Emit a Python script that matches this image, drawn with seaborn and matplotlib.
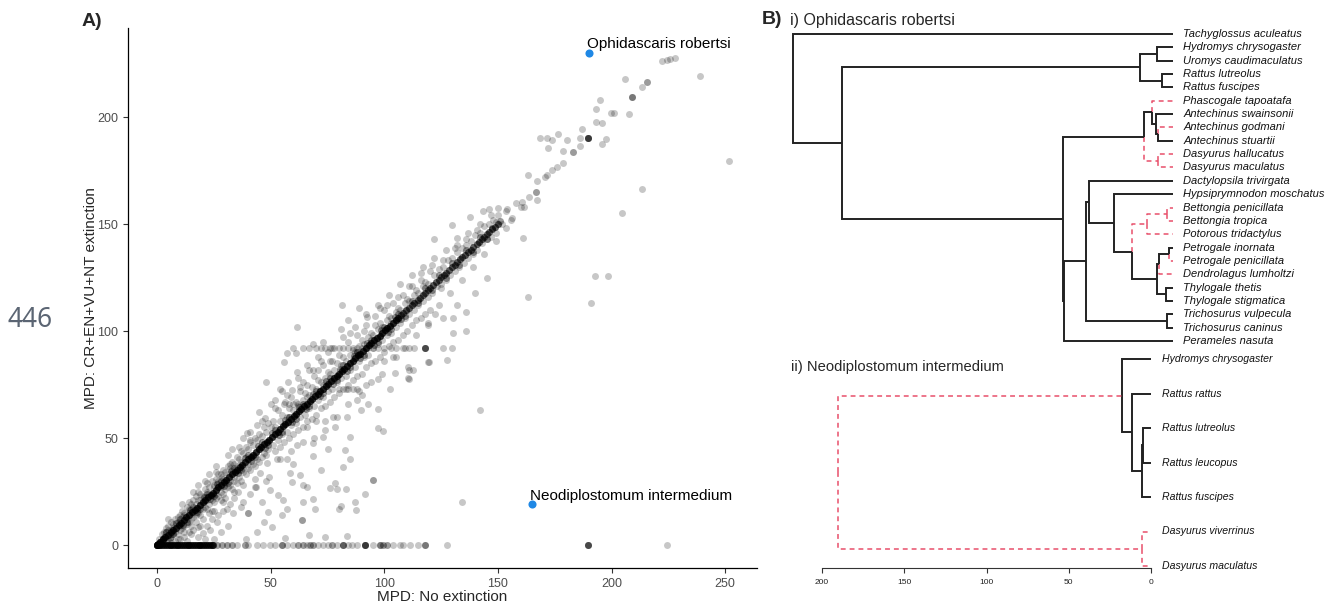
import numpy as np
import pandas as pd
import matplotlib
matplotlib.use("Agg")
import matplotlib.pyplot as plt
import seaborn as sns

# ---------------- panel A data (MPD: no extinction vs CR+EN+VU+NT extinction) ----------------
# parasites whose MPD is unchanged (y = x); diag_n = how many parasites sit at each value
diag_v = [0, 0.6, 1.5, 2.7, 3.6, 4.9, 6.1, 7.0, 8.2, 9.5, 10.4, 11.8, 12.9, 14.0, 15.3, 16.5,
          17.4, 18.8, 20.0, 21.1, 22.3, 23.6, 24.5, 25.9, 27.0, 28.2, 29.5, 30.4, 31.7, 33.0,
          34.1, 35.2, 36.6, 37.5, 38.8, 40.0, 41.3, 42.2, 43.6, 44.8, 45.9, 47.1, 48.4, 49.3,
          50.6, 51.9, 53.0, 54.1, 55.5, 56.4, 57.7, 59.0, 60.1, 61.2, 62.6, 63.5, 64.8, 66.0,
          67.3, 68.2, 69.6, 70.8, 71.9, 73.1, 74.4, 75.3, 76.6, 77.9, 79.0, 80.1, 81.5, 82.4,
          83.7, 85.0, 86.1, 87.2, 88.6, 89.5, 90.8, 92.0, 93.3, 94.2, 95.6, 96.8, 97.9, 99.1,
          100.4, 101.3, 102.6, 103.9, 105.0, 106.1, 107.5, 108.4, 109.7, 111.0, 112.1, 113.2,
          114.6, 115.5, 116.8, 118.0, 119.3, 120.2, 121.6, 122.8, 123.9, 125.1, 126.4, 127.3,
          128.6, 129.9, 131.0, 132.1, 133.5, 134.4, 135.7, 137.0, 138.1, 139.2, 140.6, 141.5,
          142.8, 144.0, 145.3, 146.2, 147.6, 148.8, 150.0]
diag_n = [10] * 4 + [7] * 88 + [4] * 37

# parasites left with a single host lineage (y = 0)
zero_x = [0, 0.7, 1.5, 2.3, 3.0, 3.9, 4.6, 5.5, 6.2, 7.1, 7.8, 8.7, 9.4, 10.3, 11.0, 11.9,
          12.6, 13.5, 14.2, 15.1, 15.8, 16.7, 17.4, 18.3, 19.0, 19.9, 20.6, 21.5, 22.3, 23.1,
          24.0, 24.8, 26.3, 28.5, 30.7, 32.9, 35.0, 38.7, 40.2, 43.9, 46.8, 49.7, 51.9, 54.9,
          57.1, 60.0, 62.2, 64.4, 66.0, 67.3, 68.8, 71.0, 73.2, 75.4, 76.9, 79.0, 81.7, 84.2,
          85.7, 87.9, 91.5, 95.0, 98.2, 99.6, 101.1, 104.0, 107.0, 108.1, 111.4, 115.0, 118.0,
          127.5, 189.5, 224.6]
zero_n = [5] * 32 + [2, 2, 2, 2, 1, 2, 1, 1, 1, 1, 1, 3, 1, 1, 2, 2, 1, 2, 2, 1, 1, 1, 2, 1,
                     4, 1, 1, 1, 6, 1, 3, 2, 2, 1, 1, 1, 1, 1, 3, 1, 5, 1]

# parasites sitting just off the unchanged line
hug = [(4, 6), (7, 5), (10, 12), (13, 11), (16, 18), (19, 17), (22, 24), (25, 23), (28, 30),
       (31, 29), (34, 36), (37, 35), (40, 42), (43, 41), (46, 48), (49, 47), (52, 54), (55, 53),
       (58, 60), (61, 59), (64, 66), (67, 65), (70, 72), (73, 71), (76, 78), (79, 77), (82, 84),
       (85, 83), (88, 90), (91, 89), (94, 96), (97, 95), (100, 102), (103, 101), (106, 108),
       (109, 107), (112, 114), (115, 113), (118, 120), (121, 119), (124, 126), (127, 125),
       (130, 132), (133, 131), (136, 138), (139, 137), (142, 144), (145, 143),
       (5.5, 3.5), (8.5, 10.5), (11.5, 9.5), (14.5, 16.5), (17.5, 15.5), (20.5, 22.5),
       (23.5, 21.5), (26.5, 28.5), (29.5, 27.5), (32.5, 34.5), (35.5, 33.5), (38.5, 40.5),
       (41.5, 39.5), (44.5, 46.5), (47.5, 45.5), (50.5, 52.5), (53.5, 51.5), (56.5, 58.5),
       (59.5, 57.5), (62.5, 64.5), (65.5, 63.5), (68.5, 70.5), (71.5, 69.5), (74.5, 76.5),
       (77.5, 75.5), (80.5, 82.5), (83.5, 81.5), (86.5, 88.5), (89.5, 87.5), (92.5, 94.5),
       (95.5, 93.5), (98.5, 100.5), (101.5, 99.5), (104.5, 106.5), (107.5, 105.5)]

near_low = [(1, 3), (2, 5), (3, 6), (4, 8), (5, 9), (6, 7), (6, 11), (7, 10), (8, 12), (9, 13),
            (10, 11), (10, 14), (11, 16), (12, 15), (13, 18), (14, 17), (14, 20), (15, 19),
            (16, 21), (17, 23), (18, 21), (18, 25), (19, 24), (20, 23), (21, 26), (22, 25),
            (22, 29), (23, 27), (24, 30), (25, 28), (26, 31), (26, 34), (27, 30), (28, 33),
            (29, 35), (30, 34), (31, 37), (32, 36), (33, 39), (34, 38), (35, 41), (36, 40),
            (37, 44), (38, 43), (39, 46), (40, 45), (41, 48), (42, 47), (43, 50), (44, 49),
            (45, 52), (46, 51), (47, 55), (48, 53), (49, 57), (50, 55),
            (3, 1), (4, 2), (5, 3), (6, 4), (7, 5), (8, 6), (9, 5), (10, 7), (11, 8), (12, 9),
            (12, 6), (13, 10), (14, 11), (15, 12), (15, 9), (16, 13), (17, 14), (17, 11),
            (18, 15), (19, 14), (20, 17), (20, 12), (21, 18), (22, 17), (23, 19), (23, 15),
            (24, 21), (25, 20), (25, 16), (26, 22), (27, 23), (28, 21), (28, 25), (29, 24),
            (30, 26), (30, 22), (31, 27), (32, 28), (33, 26), (34, 30), (35, 29), (36, 32),
            (37, 30), (38, 34), (39, 33), (40, 36), (41, 35), (42, 38), (43, 37), (44, 40),
            (45, 39), (46, 41), (47, 43), (48, 42), (49, 45),
            (2, 1), (3, 4), (4, 6), (5, 7), (6, 5), (7, 8), (8, 9), (9, 11), (10, 9), (11, 13),
            (12, 14), (13, 12), (14, 15), (15, 17), (16, 15), (17, 19), (18, 17), (19, 21),
            (20, 19), (21, 22), (22, 21), (23, 24), (24, 23), (25, 27), (26, 24), (27, 29),
            (28, 27), (29, 31), (30, 29), (31, 33), (32, 30), (33, 35), (34, 32), (35, 37),
            (36, 35), (37, 39), (38, 36), (39, 41), (40, 38)]

near_mid = [(51, 58), (52, 55), (53, 63), (54, 58), (55, 61), (56, 66), (57, 60), (58, 64),
            (59, 69), (60, 63), (61, 67), (62, 65), (63, 72), (64, 68), (65, 71), (66, 75),
            (67, 70), (68, 74), (69, 79), (70, 73), (71, 77), (72, 76), (73, 84), (74, 78),
            (75, 81), (76, 80), (77, 86), (78, 82), (79, 85), (80, 89), (81, 84), (82, 88),
            (83, 86), (84, 95), (85, 89), (86, 91), (87, 90), (88, 98), (89, 93), (90, 96),
            (91, 94), (92, 103), (93, 97), (94, 99), (95, 98), (96, 107), (97, 101), (98, 104),
            (99, 102), (100, 110), (101, 105), (102, 107), (103, 106), (104, 113), (105, 109),
            (106, 111), (107, 110), (108, 117), (109, 113), (110, 115), (111, 114), (112, 121),
            (113, 117), (114, 119), (115, 118), (116, 124), (117, 121), (118, 123), (119, 122),
            (120, 128),
            (51, 47), (52, 44), (53, 49), (54, 46), (55, 52), (56, 48), (57, 53), (58, 50),
            (59, 56), (60, 52), (61, 57), (62, 54), (63, 60), (64, 55), (65, 61), (66, 58),
            (67, 64), (68, 59), (69, 65), (70, 61), (71, 68), (72, 64), (73, 69), (74, 65),
            (75, 72), (76, 67), (77, 73), (78, 69), (79, 76), (80, 71), (81, 78), (82, 73),
            (83, 79), (84, 75), (85, 82), (86, 77), (87, 83), (88, 79), (89, 86), (90, 80),
            (91, 88), (92, 83), (93, 89), (94, 85), (95, 92), (96, 86), (97, 94), (98, 88),
            (99, 96), (100, 90), (101, 98), (102, 93), (103, 99), (104, 95), (105, 102),
            (106, 96), (107, 104), (108, 98), (109, 106), (110, 100), (111, 108), (112, 103),
            (113, 110), (114, 105), (115, 112), (116, 106), (117, 114), (118, 108), (119, 116),
            (120, 110)]

spread = [(5, 12), (9, 3), (11, 19), (14, 6), (16, 25), (19, 9), (21, 30), (24, 16), (26, 37),
          (29, 20), (31, 42), (34, 25), (36, 46), (38, 20), (41, 53), (43, 31), (46, 58),
          (48, 30), (52, 64), (54, 40), (57, 70), (59, 44), (62, 78), (64, 48), (67, 82),
          (69, 50), (72, 86), (74, 58), (77, 92), (79, 60), (82, 97), (84, 66), (87, 102),
          (89, 72), (92, 108), (94, 76), (97, 112), (99, 80), (102, 117), (104, 88), (107, 122),
          (109, 92), (112, 126), (114, 98), (117, 130), (119, 104), (122, 134), (124, 112),
          (127, 138), (129, 118), (132, 140), (134, 124), (137, 146), (139, 130), (142, 150),
          (144, 136), (147, 154), (149, 142), (18, 28), (23, 33), (27, 33), (33, 45), (38, 50),
          (44, 56), (55, 72), (63, 74), (71, 82), (76, 86), (85, 99), (91, 100), (96, 103),
          (101, 112), (106, 116), (111, 121), (116, 127), (121, 131), (126, 133), (131, 139),
          (136, 143), (141, 147), (58, 60), (66, 69), (73, 75), (81, 82), (88, 90), (95, 95),
          (103, 104), (110, 110), (65, 64), (78, 77), (93, 92), (106, 105)]

far_above = [(39.5, 52.5), (47.5, 59.2), (41, 49), (32, 38), (28.5, 32), (47.8, 76), (56.3, 67),
             (59.3, 72.4), (64.4, 76.3), (68.8, 81.8), (57, 89.6), (61.2, 89.6), (55.9, 85.7),
             (61.5, 81), (61.5, 101.7), (68.8, 93.8), (57.8, 76.3), (80.8, 101), (84, 105),
             (81.3, 112), (89, 111), (97.9, 111), (92.3, 106.7), (52, 68), (45, 62), (50, 66),
             (58, 66), (60, 66), (62, 66), (54, 73), (66, 84), (71, 88), (75, 90), (73, 95),
             (80, 73), (83, 73), (84, 73), (86, 73), (88, 73)]

# horizontal run at MPD ~ 92
band_x = [60, 64, 67, 70, 72, 74, 76, 78, 80, 82, 84, 86, 88, 90, 92, 95, 97, 100, 103, 105,
          108, 111, 113, 118, 118, 118, 118, 118, 126, 130]
band_y = [92] * len(band_x)

far_below = [(97.4, 77.6), (102.5, 72.7), (110.6, 77.9), (111, 81.8), (104.8, 80.2), (97, 63.4),
             (89.6, 63), (97, 54.8), (99.6, 53.3), (77.3, 60), (83.5, 60), (85, 50.6),
             (82.5, 44.4), (81.7, 36.6), (95, 30.4), (95, 30.4), (68.8, 41.7), (73.2, 50.6),
             (78.3, 55.3), (91.5, 23.8), (87.1, 20.2), (83.2, 26), (79, 26), (76, 26.5),
             (78.3, 29), (80.8, 18.2), (80, 16.7), (87.4, 16.4), (68.8, 21.5), (69.5, 17),
             (63, 32.7), (64.4, 28), (58.5, 33.5), (59.3, 29.6), (53.4, 23.4), (55.6, 21),
             (49.4, 32), (49.7, 25.7), (45.3, 33.5), (41, 24), (43.6, 27.3), (64.4, 20.2),
             (63.7, 11.7), (63.7, 11.7), (57, 17), (54.9, 14), (49, 15.6), (50.5, 8.6),
             (43.9, 6.2), (39.9, 14.8), (33.6, 14.8), (67, 4.7), (74, 3.6), (83.5, 4.2),
             (56.3, 3.1), (68.8, 47.5), (61.5, 46.7), (57, 40), (52.6, 40), (48.3, 38.5),
             (38, 28), (35.8, 25), (30.7, 17), (26.3, 10.9), (23.3, 7), (20.4, 5.5), (18.2, 8.6),
             (119.4, 85.7), (127.5, 86.4), (110.6, 83.3), (112.5, 81.7), (111, 77.8),
             (142.2, 63), (134, 20.2), (119.7, 85.7), (90, 70), (93, 66), (100, 86), (105, 88),
             (66, 55), (70, 58), (74, 54), (88, 68), (92, 75), (60, 38), (72, 35), (75, 45),
             (85, 40), (66, 27), (6, 1), (8, 2), (10, 3), (12, 4), (13, 2), (15, 5), (16, 7),
             (18, 4), (21, 3), (22, 9), (24, 12), (25, 3), (27, 14), (28, 6), (29, 16), (31, 9),
             (32, 19), (34, 22), (37, 18), (39, 3), (40, 15), (43, 27), (46, 20), (47, 11)]

high = [(121, 118), (122, 126), (123, 121), (124, 129), (125, 122), (126, 130), (127, 124),
        (128, 133), (129, 126), (130, 134), (131, 128), (132, 137), (133, 130), (134, 139),
        (135, 132), (136, 140), (137, 134), (138, 142), (139, 136), (140, 145), (141, 138),
        (142, 146), (143, 141), (144, 149), (145, 143), (146, 150), (147, 144), (148, 152),
        (149, 146), (150, 154), (152, 150), (154, 157), (156, 153), (158, 160), (160, 158),
        (121.9, 142.8), (132.2, 143.6), (129.7, 149.5), (137.5, 153.3), (143.6, 156.1),
        (146, 157), (150.1, 157.4), (153.4, 156.1), (155.6, 152), (149, 151), (153.6, 148.3),
        (161.2, 143.6), (126, 106), (130.4, 106), (135.9, 109), (130.2, 98.9), (122.3, 108.2),
        (119.3, 102.8), (136, 100), (140, 118), (145, 125), (125, 120), (132, 112),
        (150.7, 151.5), (150.7, 151.5), (147.3, 148), (147.3, 148)]

upper = [(160.8, 160.1), (161.5, 158), (163.7, 162.7), (166.9, 165.1), (166.9, 165.1),
         (167.2, 161.2), (163.4, 172.9), (167.2, 170.1), (170.5, 171.8), (171.5, 172.9),
         (173.7, 175.3), (175.9, 176.8), (178.8, 178.4), (178.8, 184.3), (172.2, 185.6),
         (183.2, 183.5), (183.2, 183.5), (168.5, 190.1), (171.5, 190), (173.7, 189.3),
         (176.6, 191.9), (180.6, 189.3), (186.2, 190.1), (186.2, 186.6), (189.6, 190.1),
         (189.6, 190.1), (189.6, 190.1), (189.6, 190.1), (189.6, 190.1), (189.6, 190.1),
         (195.7, 187.4), (197.6, 189.7), (186.9, 194.5), (193.2, 197.8), (195.7, 197),
         (194.7, 208), (193, 203.8), (200.9, 201.8), (207.5, 201.3), (199.7, 202),
         (206, 217.9), (215.5, 216.3), (215.5, 216.3), (213.3, 214.2), (209.2, 209.4),
         (209.2, 209.4), (209.2, 209.4), (222.1, 226.2), (224.3, 226.6), (228, 227.8),
         (225.8, 227.1), (238.7, 219), (251.7, 179.6), (213.3, 166.4), (204.8, 155.3),
         (192.6, 125.8), (198.4, 125.8), (163.1, 116), (191, 113)]

hl_names = ["Ophidascaris robertsi", "Neodiplostomum intermedium"]
hl_x = [189.9, 164.9]
hl_y = [230.1, 19.1]

# ---------------- panel B data (host trees) ----------------
tree1_leaves = ["Tachyglossus aculeatus", "Hydromys chrysogaster", "Uromys caudimaculatus",
                "Rattus lutreolus", "Rattus fuscipes", "Phascogale tapoatafa",
                "Antechinus swainsonii", "Antechinus godmani", "Antechinus stuartii",
                "Dasyurus hallucatus", "Dasyurus maculatus", "Dactylopsila trivirgata",
                "Hypsiprymnodon moschatus", "Bettongia penicillata", "Bettongia tropica",
                "Potorous tridactylus", "Petrogale inornata", "Petrogale penicillata",
                "Dendrolagus lumholtzi", "Thylogale thetis", "Thylogale stigmatica",
                "Trichosurus vulpecula", "Trichosurus caninus", "Perameles nasuta"]
# (node, age, children)
tree1_nodes = [
    ("hu", 9.2, ["Hydromys chrysogaster", "Uromys caudimaculatus"]),
    ("rr", 6.3, ["Rattus lutreolus", "Rattus fuscipes"]),
    ("rod", 19.0, ["hu", "rr"]),
    ("gs", 8.6, ["Antechinus godmani", "Antechinus stuartii"]),
    ("ant", 10.0, ["Antechinus swainsonii", "gs"]),
    ("pha", 12.0, ["Phascogale tapoatafa", "ant"]),
    ("das", 8.6, ["Dasyurus hallucatus", "Dasyurus maculatus"]),
    ("dasy", 16.6, ["pha", "das"]),
    ("bet", 3.4, ["Bettongia penicillata", "Bettongia tropica"]),
    ("pot", 14.9, ["bet", "Potorous tridactylus"]),
    ("pet", 2.3, ["Petrogale inornata", "Petrogale penicillata"]),
    ("ped", 8.3, ["pet", "Dendrolagus lumholtzi"]),
    ("thy", 4.0, ["Thylogale thetis", "Thylogale stigmatica"]),
    ("mac", 9.2, ["ped", "thy"]),
    ("kan", 23.5, ["pot", "mac"]),
    ("mp", 33.9, ["Hypsiprymnodon moschatus", "kan"]),
    ("dac", 48.2, ["Dactylopsila trivirgata", "mp"]),
    ("tri", 3.4, ["Trichosurus vulpecula", "Trichosurus caninus"]),
    ("dip", 50.0, ["dac", "tri"]),
    ("aus", 62.6, ["dip", "Perameles nasuta"]),
    ("mar", 63.2, ["dasy", "aus"]),
    ("the", 190.0, ["rod", "mar"]),
    ("root", 218.0, ["Tachyglossus aculeatus", "the"]),
]
tree1_lost = ["Phascogale tapoatafa", "Antechinus godmani", "das", "Dasyurus hallucatus",
              "Dasyurus maculatus", "pot", "bet", "Bettongia penicillata", "Bettongia tropica",
              "Potorous tridactylus", "Petrogale penicillata", "Dendrolagus lumholtzi"]

tree2_leaves = ["Hydromys chrysogaster", "Rattus rattus", "Rattus lutreolus", "Rattus leucopus",
                "Rattus fuscipes", "Dasyurus viverrinus", "Dasyurus maculatus"]
tree2_nodes = [
    ("ll", 4.7, ["Rattus lutreolus", "Rattus leucopus"]),
    ("llf", 5.5, ["ll", "Rattus fuscipes"]),
    ("rat", 11.6, ["Rattus rattus", "llf"]),
    ("rod", 17.6, ["Hydromys chrysogaster", "rat"]),
    ("das", 5.5, ["Dasyurus viverrinus", "Dasyurus maculatus"]),
    ("root", 190.3, ["rod", "das"]),
]
tree2_lost = ["rod", "das", "Dasyurus viverrinus", "Dasyurus maculatus"]
tree2_ticks = [200, 150, 100, 50, 0]

RED = "#e8506b"
DARK = "#222222"

# ---------------- build ----------------
parts = [pd.DataFrame({"x": np.repeat(diag_v, diag_n), "y": np.repeat(diag_v, diag_n)}),
         pd.DataFrame({"x": np.repeat(zero_x, zero_n), "y": 0.0}),
         pd.DataFrame({"x": band_x, "y": band_y})]
for pts in (hug, hug, near_low, near_mid, spread, far_above, far_below, high, upper):
    parts.append(pd.DataFrame(pts, columns=["x", "y"]))
df = pd.concat(parts, ignore_index=True)
hl = pd.DataFrame({"x": hl_x, "y": hl_y, "name": hl_names})

sns.set_style("ticks")
plt.rcParams['font.family'] = ['Liberation Sans', 'DejaVu Sans']

W, H = 1330, 603
fig = plt.figure(figsize=(W / 100, H / 100), dpi=100)


def px_axes(x0, y0, x1, y1):
    return fig.add_axes([x0 / W, 1 - y1 / H, (x1 - x0) / W, (y1 - y0) / H])


# ----- panel A -----
axA = px_axes(128, 28, 757, 568)
sns.scatterplot(data=df, x="x", y="y", color="black", alpha=0.22, s=25, linewidth=0,
                ax=axA, legend=False)
sns.scatterplot(data=hl, x="x", y="y", color="#1f88e5", s=34, linewidth=0, ax=axA, legend=False)
for _, r in hl.iterrows():
    axA.annotate(r["name"], (r["x"], r["y"]), xytext=(-1, 1), textcoords="offset points",
                 ha="left", va="bottom", fontsize=11, color="black")
axA.set_xlim(-12.8, 264)
axA.set_ylim(-10.7, 241.6)
axA.set_xticks([0, 50, 100, 150, 200, 250])
axA.set_yticks([0, 50, 100, 150, 200])
axA.set_xlabel("")
axA.set_ylabel("")
axA.tick_params(labelsize=9, labelcolor="#4d4d4d", color="#333333", length=3.5, width=0.8)
sns.despine(ax=axA)
for s in ("left", "bottom"):
    axA.spines[s].set_linewidth(0.9)
    axA.spines[s].set_color("black")
fig.text(442 / W, 1 - 597 / H, "MPD: No extinction", ha="center", va="center", fontsize=11)
fig.text(91 / W, 1 - 298 / H, "MPD: CR+EN+VU+NT extinction", ha="center", va="center",
         rotation=90, fontsize=11)


# ----- panel B -----
def draw_tree(ax, leaves, nodes, lost, fs, gap):
    age = {l: 0.0 for l in leaves}
    ypos = {l: i + 1 for i, l in enumerate(leaves)}
    for name, a, ch in nodes:
        age[name] = a
        ypos[name] = np.mean([ypos[c] for c in ch])
    for name, a, ch in nodes:
        for c in ch:
            if c in lost:
                st = dict(color=RED, lw=1.1, ls=(0, (3.2, 2.6)))
            else:
                st = dict(color=DARK, lw=1.4)
            ax.plot([a, a, age[c]], [ypos[name], ypos[c], ypos[c]], clip_on=False,
                    solid_capstyle="butt", solid_joinstyle="miter", **st)
    for l in leaves:
        ax.annotate(l, (0, ypos[l]), xytext=(gap, 0), textcoords="offset points",
                    ha="left", va="center", fontsize=fs, style="italic", color="#111111",
                    annotation_clip=False)


ax1 = px_axes(793, 34 - 6.674, 1173, 341 + 6.674)
draw_tree(ax1, tree1_leaves, tree1_nodes, tree1_lost, 8, 7.3)
ax1.set_xlim(218, 0)
ax1.set_ylim(len(tree1_leaves) + 0.5, 0.5)
ax1.axis("off")

ax2 = px_axes(822, 359 - 17.25, 1151, 568)
draw_tree(ax2, tree2_leaves, tree2_nodes, tree2_lost, 7.6, 7.9)
ax2.set_xlim(200, 0)
ax2.set_ylim(len(tree2_leaves) + 2 / 34.5, 0.5)
ax2.set_xticks(tree2_ticks)
ax2.set_yticks([])
ax2.tick_params(axis="x", labelsize=6, length=3.6, width=0.8, color="#333333",
                labelcolor="#222222", pad=4)
for s in ("top", "right", "left"):
    ax2.spines[s].set_visible(False)
ax2.spines["bottom"].set_linewidth(0.8)
ax2.spines["bottom"].set_color("#333333")
ax2.set_facecolor("none")

fig.text(790 / W, 1 - 20 / H, "i) Ophidascaris robertsi", ha="left", va="center", fontsize=11.5)
fig.text(791 / W, 1 - 367 / H, "ii) Neodiplostomum intermedium", ha="left", va="center",
         fontsize=10.6)

fig.text(82 / W, 1 - 22 / H, "A)", ha="left", va="center", fontsize=14, fontweight="bold")
fig.text(762 / W, 1 - 20 / H, "B)", ha="left", va="center", fontsize=14, fontweight="bold")
fig.text(8 / W, 1 - 320 / H, "446", ha="left", va="center", fontsize=19, color="#5b6573",
         family=["Noto Sans", "DejaVu Sans"])

fig.savefig("out.png", dpi=100)
